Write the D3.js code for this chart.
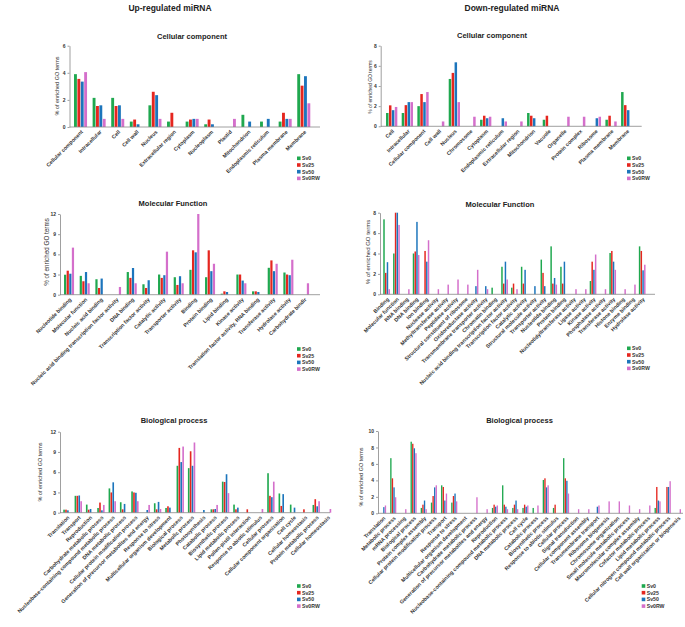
<!DOCTYPE html>
<html><head><meta charset="utf-8">
<script src="https://cdn.jsdelivr.net/npm/d3@7"></script>
<style>body{margin:0;background:#fff;} svg{font-family:"Liberation Sans",Arial,sans-serif;}</style>
</head><body><svg id="c" width="685" height="627"></svg>
<script>
const seriesNames = ["Sv0","Sv25","Sv50","Sv0RW"];
const seriesColors = ["#1fa84f","#e5261f","#1c75bc","#d46fcb"];

// Up-regulated: Cellular component
const upCCCategories = ["Cellular component","Intracellular","Cell","Cell wall","Nucleus","Extracellular region","Cytoplasm","Nucleoplasm","Plastid","Mitochondrion","Endoplasmic reticulum","Plasma membrane","Membrane"];
const upCCSv0   = [3.9,2.15,2.15,0.4,1.6,0.4,0.4,0.2,0,0.9,0.4,0.4,3.9];
const upCCSv25  = [3.55,1.55,1.55,0.55,2.6,1.05,0.55,0.55,0,0,0,1.05,3.05];
const upCCSv50  = [3.35,1.6,1.6,0.2,2.35,0,0.6,0.2,0,0.4,0.6,0.6,3.75];
const upCCSv0RW = [4.05,0.6,0.6,0,0.6,0,0.6,0,0.6,0,0,0.6,1.75];

// Down-regulated: Cellular component
const dnCCCategories = ["Cell","Intracellular","Cellular component","Cell wall","Nucleus","Chromosome","Cytoplasm","Endoplasmic reticulum","Extracellular region","Mitochondrion","Vacuole","Organelle","Protein complex","Ribosome","Plasma membrane","Membrane"];
const dnCCSv0   = [1.32,1.32,2.0,0,4.7,0,0.65,0,0,1.32,0.65,0,0,0,0.65,3.4];
const dnCCSv25  = [2.08,2.1,3.2,0,5.3,0,1.05,0,0,1.05,1.05,0,0,0,1.05,2.1];
const dnCCSv50  = [1.6,2.4,2.4,0,6.35,0,0.8,0.8,0,0.8,0,0,0,0.8,0,1.6];
const dnCCSv0RW = [1.92,2.4,3.4,0.48,2.4,0.95,0.95,0.48,0.48,0,0,0.95,0.95,0.95,0.48,0];

// Up-regulated: Molecular Function
const upMFCategories = ["Nucleotide binding","Molecular function","Nucleic acid binding","Nucleic acid binding transcription factor activity","DNA binding","Transcription factor activity","Catalytic activity","Transporter activity","Binding","Protein binding","Lipid binding","Kinase activity","Translation factor activity, RNA binding","Transferase activity","Hydrolase activity","Carbohydrate bindir"];
const upMFSv0   = [2.97,2.8,2.3,0,3.37,1.55,3.0,2.6,3.7,2.6,0.15,3.0,0.5,4.0,3.3,0];
const upMFSv25  = [3.57,2.0,1.0,0,2.5,1.0,2.5,1.45,6.6,6.6,0.5,3.0,0.5,5.1,3.0,0];
const upMFSv50  = [3.12,3.37,2.4,0,3.97,2.15,2.9,2.75,6.3,3.5,0.4,2.1,0.4,3.5,2.9,0];
const upMFSv0RW = [7.0,1.7,0,1.15,1.7,0,6.4,1.7,12.0,4.6,0,1.7,0,4.6,5.2,1.7];

// Down-regulated: Molecular Function
const dnMFCategories = ["Binding","Molecular function","RNA binding","DNA binding","Ion binding","Nuclease activity","Methyltransferase activity","Peptidase activity","Structural constituent of ribosome","Oxidoreductase activity","Transmembrane transporter activity","Chromatin binding","Nucleic acid binding transcription factor activity","Transcription factor activity","Catalytic activity","Structural molecule activity","Transporter activity","Nucleotide binding","Protein binding","Nucleotidyltransferase activity","Ligase activity","Kinase activity","Phosphatase activity","Transferase activity","Histone binding","Enzyme binding","Hydrolase activity"];
const dnMFSv0   = [7.35,4.0,0,4.0,0,0,0,0,0,0,0,0.65,2.7,0.65,2.7,0,3.4,4.7,2.7,0,0,1.3,0,4.05,0,0,4.7];
const dnMFSv25  = [2.1,8.0,0,4.2,4.25,0,0,0,0,0,0,0,1.05,1.05,1.05,0,2.1,1.05,1.05,0,0,3.2,0,4.25,0,0,4.25];
const dnMFSv50  = [3.15,8.0,0,7.1,3.2,0,0,0,0,0.8,0.8,0,3.2,0,2.4,0.8,0.8,1.6,3.2,0,0,2.4,0,3.2,0,0,2.35];
const dnMFSv0RW = [0.5,6.8,0.5,3.85,5.3,0.5,0.95,1.45,0.95,2.4,0.5,0,1.45,0.5,0,0,0,0.95,0,0.5,0.5,3.9,0.5,2.4,0.5,0.95,2.9];

// Up-regulated: Biological process
const upBPCategories = ["Translation","Transport","Reproduction","Carbohydrate metabolic process","Nucleobase-containing compound metabolic process","DNA metabolic process","Cellular protein modification process","Generation of precursor metabolites and energy","Response to stress","Multicellular organism development","Biological process","Metabolic process","Photosynthesis","Catabolic process","Biosynthetic process","Lipid metabolic process","Pollen-pistil interaction","Response to abiotic stimulus","Cellular process","Cellular component organization","Cell cycle","Cellular homeostasis","Protein metabolic process","Cellular homeostasis"];
const upBPSv0   = [0.45,2.5,1.2,0.7,3.6,1.55,3.15,0,1.4,0.7,6.95,6.6,0,0.5,4.6,1.2,0,0,5.85,2.85,1.2,0,1.15,0];
const upBPSv25  = [0.45,2.5,0.45,1.5,3.0,0.5,3.0,0,0.5,0.95,9.6,9.1,0,0.5,4.55,0.5,0.5,0,2.5,1.0,0,0.5,2.0,0];
const upBPSv50  = [0.35,2.55,0.55,0.35,4.5,1.3,2.95,0.4,1.6,0.75,7.5,6.95,0.4,0.55,5.7,0.75,0,0,2.3,2.75,0.75,0,0.95,0];
const upBPSv0RW = [0,1.7,0,1.15,1.7,0,1.7,1.15,0.55,0,9.8,10.4,0,1.15,2.9,0,0,0.55,4.6,0,0,0,1.7,0.55];

// Down-regulated: Biological process
const dnBPCategories = ["Translation","Metabolic process","mRNA processing","Biological process","Protein complex assembly","Cellular protein modification process","Transport","Response to stress","Multicellular organism development","Carbohydrate metabolic process","Generation of precursor metabolites and energy","Reproduction","Nucleobase-containing compound metabolic process","DNA metabolic process","Cell cycle","Catabolic process","Biosynthetic process","Response to abiotic stimulus","Cellular process","Signal transduction","Cellular component assembly","Transmembrane transport","Ribosome biogenesis","Chromosome organization","Small molecule metabolic process","Macromolecular complex assembly","Cofactor metabolic process","Lipid metabolic process","Cellular nitrogen compound metabolic process","Cell wall organization or biogenesis"];
const dnBPSv0   = [0,6.7,0,8.7,0.65,1.3,3.4,1.3,0,0,0,0.65,3.4,0.65,0.65,0.65,4.05,0.65,6.7,0,0,0,0,0,0,0,0,0.65,0,0];
const dnBPSv25  = [0,4.25,0,8.45,1.05,2.1,3.2,2.1,0,0,0,1.05,1.05,1.05,1.05,0,4.25,1.05,4.25,0,0,0,0,0,0,0,0,3.2,3.2,0];
const dnBPSv50  = [0.75,3.15,0,7.9,1.55,3.15,1.55,2.4,0,0,0,0.8,0.8,1.55,0.8,0,3.15,0,3.95,0,0,0.8,0,0,0,0,0,1.55,3.2,0];
const dnBPSv0RW = [0.95,1.95,0.5,7.3,0.5,3.4,2.4,1.45,0,1.95,0.5,0.95,0.5,0.5,0.95,0.95,3.4,0,2.4,0.5,0.5,0.95,1.45,1.45,0.95,0.5,0.95,1.45,3.9,0.5];

const upTicks6 = [0,2,4,6], ticks8 = [0,2,4,6,8], ticks12 = [0,3,6,9,12], ticks10 = [0,2,4,6,8,10];

const svg = d3.select("#c");

const panels = [
  {title:"Cellular component", cats:upCCCategories, series:[upCCSv0,upCCSv25,upCCSv50,upCCSv0RW], ymax:6, ticks:upTicks6,
   ax:69.5, axEnd:320, y0:127, y1:45.7, r0:70.3, r1:314, pi:0.3, po:0.2, tx:192, ty:39, ylx:59, yly:86, ylfs:5.5, lx:297, ly:158.3},
  {title:"Cellular component", cats:dnCCCategories, series:[dnCCSv0,dnCCSv25,dnCCSv50,dnCCSv0RW], ymax:8, ticks:ticks8,
   ax:380.7, axEnd:641.7, y0:126.3, y1:45.7, r0:382.9, r1:635.5, pi:0.28, po:0.2, tx:492, ty:38, ylx:371.5, yly:87, ylfs:5, lx:627, ly:158.3},
  {title:"Molecular Function", cats:upMFCategories, series:[upMFSv0,upMFSv25,upMFSv50,upMFSv0RW], ymax:12, ticks:ticks12,
   ax:60, axEnd:320, y0:294.7, y1:214, r0:60.9, r1:312.2, pi:0.36, po:0.2, tx:173, ty:206, ylx:49, yly:252, ylfs:6.3, lx:297, ly:349},
  {title:"Molecular Function", cats:dnMFCategories, series:[dnMFSv0,dnMFSv25,dnMFSv50,dnMFSv0RW], ymax:8, ticks:ticks8,
   ax:380, axEnd:655, y0:294.3, y1:212.7, r0:381.3, r1:647.5, pi:0.32, po:0.2, tx:500, ty:207, ylx:369.5, yly:252, ylfs:6, lx:627, ly:348.3},
  {title:"Biological process", cats:upBPCategories, series:[upBPSv0,upBPSv25,upBPSv50,upBPSv0RW], ymax:12, ticks:ticks12,
   ax:60, axEnd:330, y0:512.7, y1:431.7, r0:61, r1:333.5, pi:0.35, po:0.2, tx:174, ty:423, ylx:42, yly:472, ylfs:5.5, lx:297, ly:586},
  {title:"Biological process", cats:dnBPCategories, series:[dnBPSv0,dnBPSv25,dnBPSv50,dnBPSv0RW], ymax:10, ticks:ticks10,
   ax:378, axEnd:683, y0:513.3, y1:431, r0:378.5, r1:682.5, pi:0.4, po:0.15, tx:519.5, ty:423, ylx:363, yly:477, ylfs:5.5, lx:641.7, ly:586}
];

svg.append("text").attr("x",170).attr("y",11).attr("text-anchor","middle")
  .attr("font-size",8.5).attr("font-weight","bold").attr("fill","#222").text("Up-regulated miRNA");
svg.append("text").attr("x",512).attr("y",11).attr("text-anchor","middle")
  .attr("font-size",8.5).attr("font-weight","bold").attr("fill","#222").text("Down-regulated miRNA");

function drawPanel(p){
  const g = svg.append("g");
  const x0 = d3.scaleBand().domain(d3.range(p.cats.length)).range([p.r0,p.r1]).paddingInner(p.pi).paddingOuter(p.po);
  const x1 = d3.scaleBand().domain(d3.range(seriesNames.length)).range([0,x0.bandwidth()]).paddingInner(0.15);
  const y = d3.scaleLinear().domain([0,p.ymax]).range([p.y0,p.y1]);

  p.series.forEach((vals,si)=>{
    g.append("g").selectAll("rect").data(vals.map((v,i)=>({v,i})).filter(d=>d.v>0)).enter().append("rect")
      .attr("x",d=>x0(d.i)+x1(si)).attr("width",x1.bandwidth())
      .attr("y",d=>y(d.v)).attr("height",d=>y(0)-y(d.v))
      .attr("fill",seriesColors[si]);
  });

  const ya = g.append("g").attr("transform",`translate(${p.ax},0)`)
    .call(d3.axisLeft(y).tickValues(p.ticks).tickFormat(d3.format("d")).tickSize(2).tickSizeOuter(0).tickPadding(2));
  ya.select(".domain").attr("stroke","#888").attr("stroke-width",0.8);
  ya.selectAll(".tick line").attr("stroke","#888").attr("stroke-width",0.8);
  ya.selectAll(".tick text").attr("font-size",5).attr("font-weight","bold").attr("fill","#333")
    .attr("font-family","'Liberation Sans',Arial,sans-serif");

  g.append("line").attr("x1",p.ax).attr("x2",p.axEnd).attr("y1",p.y0).attr("y2",p.y0)
    .attr("stroke","#888").attr("stroke-width",0.8);

  g.append("g").selectAll("text").data(p.cats).enter().append("text")
    .attr("transform",(d,i)=>`translate(${x0(i)+x0.bandwidth()/2+1.5},${p.y0+4}) rotate(-45)`)
    .attr("text-anchor","end").attr("dy","0.35em")
    .attr("font-size",5.3).attr("font-weight","bold").attr("fill","#333").text(d=>d);

  g.append("text").attr("x",p.tx).attr("y",p.ty).attr("text-anchor","middle")
    .attr("font-size",7.5).attr("font-weight","bold").attr("fill","#222").text(p.title);

  g.append("text").attr("transform",`translate(${p.ylx},${p.yly}) rotate(-90)`)
    .attr("text-anchor","middle").attr("font-size",p.ylfs).attr("fill","#333").text("% of enriched GO terms");

  const lg = g.append("g").selectAll("g").data(seriesNames).enter().append("g")
    .attr("transform",(d,i)=>`translate(${p.lx},${p.ly+i*6.7})`);
  lg.append("rect").attr("x",0).attr("y",-1.8).attr("width",3.6).attr("height",3.6)
    .attr("fill",(d,i)=>seriesColors[i]);
  lg.append("text").attr("x",5).attr("y",0).attr("dy","0.35em").attr("font-size",5.2)
    .attr("font-weight","bold").attr("fill","#333").text(d=>d);
}
panels.forEach(drawPanel);
</script></body></html>
